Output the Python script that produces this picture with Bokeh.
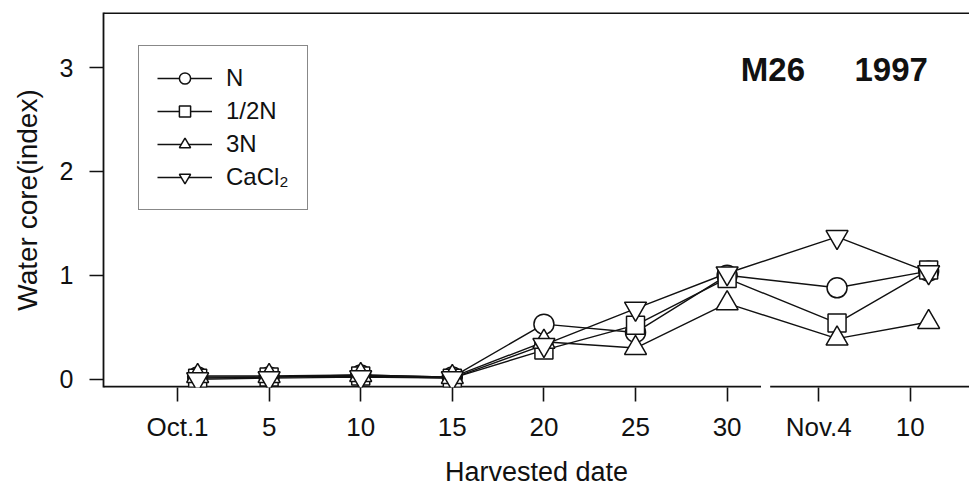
from bokeh.plotting import figure
from bokeh.models import (FixedTicker, Legend, LegendItem, Label, Range1d)
from bokeh.embed import file_html
from bokeh.resources import INLINE

# ---- data ----
tick_labels = ["Oct.1", "5", "10", "15", "20", "25", "30", "Nov.4", "10"]
tick_pos = [0, 1, 2, 3, 4, 5, 6, 7, 8]
harvest_pos = [0.22, 1, 2, 3, 4, 5, 6, 7.2, 8.2]

series_names = ["N", "1/2N", "3N", "CaCl\u2082"]
water_N = [0.02, 0.02, 0.04, 0.02, 0.53, 0.45, 1.00, 0.88, 1.04]
water_halfN = [0.01, 0.02, 0.03, 0.01, 0.28, 0.52, 0.97, 0.54, 1.05]
water_3N = [0.03, 0.03, 0.04, 0.02, 0.36, 0.30, 0.73, 0.39, 0.55]
water_CaCl2 = [0.00, 0.01, 0.02, 0.01, 0.33, 0.68, 1.02, 1.37, 1.03]

y_ticks = [0, 1, 2, 3]
axis_break = (6.37, 6.47)

FONT = "Liberation Sans"
INK = "#111111"

x0, x1 = -0.808, 8.646
y0, y1 = -0.08, 3.53

p = figure(width=969, height=490, output_backend="svg", toolbar_location=None,
           x_range=Range1d(x0, x1), y_range=Range1d(y0, y1),
           min_border_left=103, min_border_right=0, min_border_top=12,
           min_border_bottom=103)
p.outline_line_color = None
p.grid.visible = False
p.background_fill_color = "white"
p.border_fill_color = "white"

# x axis
xa = p.xaxis[0]
xa.ticker = FixedTicker(ticks=tick_pos)
xa.major_label_overrides = {t: l for t, l in zip(tick_pos, tick_labels)}
xa.axis_line_color = None
xa.major_tick_out = 14
xa.major_tick_in = 0
xa.major_tick_line_color = INK
xa.major_tick_line_width = 1.6
xa.minor_tick_line_color = None
xa.major_label_text_font = FONT
xa.major_label_text_font_size = "26px"
xa.major_label_text_color = INK
xa.major_label_standoff = 10
xa.axis_label = "Harvested date"
xa.axis_label_text_font = FONT
xa.axis_label_text_font_size = "27px"
xa.axis_label_text_font_style = "normal"
xa.axis_label_text_color = INK
xa.axis_label_standoff = 12

# y axis
ya = p.yaxis[0]
ya.ticker = FixedTicker(ticks=y_ticks)
ya.axis_line_color = INK
ya.axis_line_width = 1.8
ya.major_tick_out = 14
ya.major_tick_in = 0
ya.major_tick_line_color = INK
ya.major_tick_line_width = 1.6
ya.minor_tick_line_color = None
ya.major_label_text_font = FONT
ya.major_label_text_font_size = "25px"
ya.major_label_text_color = INK
ya.major_label_standoff = 16
ya.axis_label = "Water core(index)"
ya.axis_label_text_font = FONT
ya.axis_label_text_font_size = "28px"
ya.axis_label_text_font_style = "normal"
ya.axis_label_text_color = INK
ya.axis_label_standoff = 14

# frame lines: broken bottom axis and top line
p.segment(x0=[x0, axis_break[1]], x1=[axis_break[0], x1], y0=[y0, y0], y1=[y0, y0],
          line_color=INK, line_width=3.6)
p.segment(x0=[x0], x1=[x1], y0=[y1], y1=[y1], line_color=INK, line_width=3.2)

series = [water_N, water_halfN, water_3N, water_CaCl2]
markers = ["circle", "square", "triangle", "inverted_triangle"]
sizes = [20, 18, 22, 22]

lines = []
for vals in series:
    lines.append(p.line(harvest_pos, vals, line_color=INK, line_width=1.4))
dots = []
for vals, m, s in zip(series, markers, sizes):
    dots.append(p.scatter(harvest_pos, vals, marker=m, size=s, fill_color="white",
                          line_color=INK, line_width=1.5))

items = [LegendItem(label=n, renderers=[l, d]) for n, l, d in zip(series_names, lines, dots)]
legend = Legend(items=items, location=(35, 177))
legend.glyph_width = 55
legend.glyph_height = 28
legend.label_height = 28
legend.label_standoff = 14
legend.spacing = 5
legend.padding = 18
legend.margin = 0
legend.label_text_font = FONT
legend.label_text_font_size = "24px"
legend.label_text_color = INK
legend.border_line_color = INK
legend.border_line_width = 1.6
legend.background_fill_color = "white"
legend.background_fill_alpha = 1.0
p.add_layout(legend, "center")

# panel title
p.add_layout(Label(x=6.15, y=2.98, text="M26", text_font=FONT, text_font_size="33px",
                   text_font_style="bold", text_color=INK, text_baseline="alphabetic"))
p.add_layout(Label(x=7.39, y=2.98, text="1997", text_font=FONT, text_font_size="33px",
                   text_font_style="bold", text_color=INK, text_baseline="alphabetic"))

open("out.html", "w").write(file_html(p, INLINE))
